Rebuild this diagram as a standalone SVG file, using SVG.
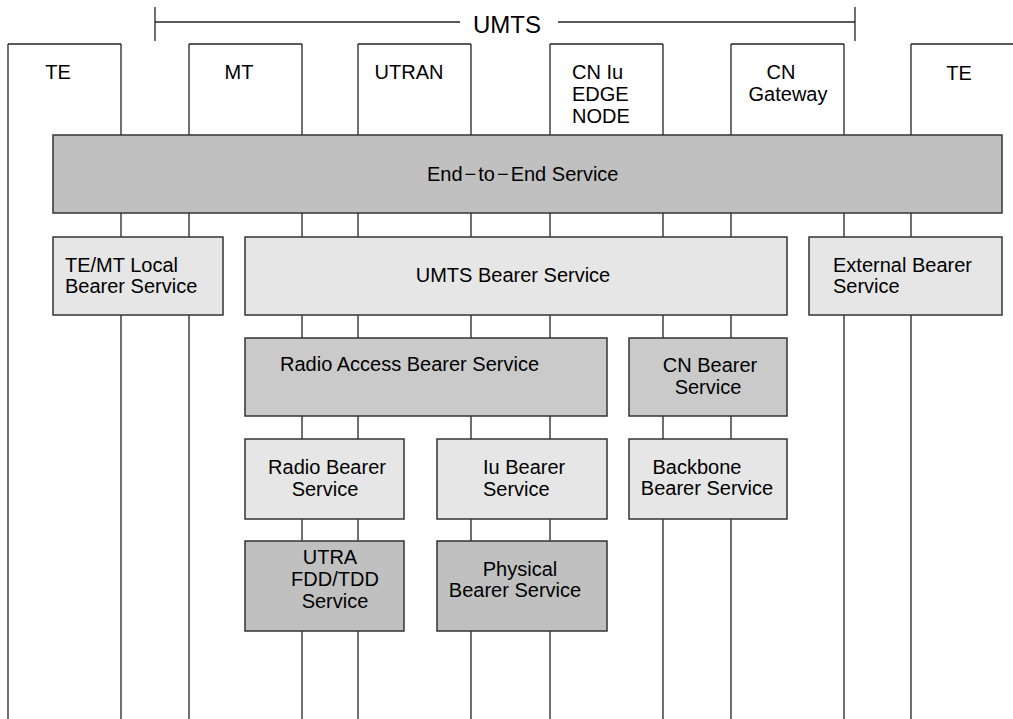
<svg xmlns="http://www.w3.org/2000/svg" width="1013" height="719" viewBox="0 0 1013 719">
<style>
  text { font-family: "Liberation Sans", Arial, sans-serif; font-size: 20px; fill: #000; }
  .ln { stroke: #222; stroke-width: 1.3; fill: none; }
  .box { stroke: #333; stroke-width: 1.5; }
  .dark { fill: #c0c0c0; }
  .mid { fill: #cacaca; }
  .light { fill: #e6e6e6; }
  .c { text-anchor: middle; }
</style>
<rect width="1013" height="719" fill="#ffffff"/>
<g id="umts-bracket">
  <line class="ln" x1="155" y1="7" x2="155" y2="41"/>
  <line class="ln" x1="855" y1="7" x2="855" y2="41"/>
  <line class="ln" x1="155" y1="22" x2="460" y2="22"/>
  <line class="ln" x1="558" y1="22" x2="855" y2="22"/>
  <text x="507" y="33" class="c" style="font-size:24px">UMTS</text>
</g>
<g id="connectors">
  <line class="ln" x1="8" y1="44" x2="8" y2="719"/>
  <line class="ln" x1="121" y1="44" x2="121" y2="719"/>
  <line class="ln" x1="189" y1="44" x2="189" y2="719"/>
  <line class="ln" x1="302" y1="44" x2="302" y2="719"/>
  <line class="ln" x1="358" y1="44" x2="358" y2="719"/>
  <line class="ln" x1="471" y1="44" x2="471" y2="719"/>
  <line class="ln" x1="550" y1="44" x2="550" y2="719"/>
  <line class="ln" x1="663" y1="44" x2="663" y2="719"/>
  <line class="ln" x1="731" y1="44" x2="731" y2="719"/>
  <line class="ln" x1="844" y1="44" x2="844" y2="719"/>
  <line class="ln" x1="911" y1="44" x2="911" y2="719"/>
</g>
<g id="te-left">
  <line class="ln" x1="8" y1="44" x2="121" y2="44"/>
  <text x="58" y="79" class="c">TE</text>
</g>
<g id="mt">
  <line class="ln" x1="189" y1="44" x2="302" y2="44"/>
  <text x="239" y="79" class="c">MT</text>
</g>
<g id="utran">
  <line class="ln" x1="358" y1="44" x2="471" y2="44"/>
  <text x="409" y="79" class="c">UTRAN</text>
</g>
<g id="cn-iu-edge">
  <line class="ln" x1="550" y1="44" x2="663" y2="44"/>
  <text x="572" y="79">CN Iu</text>
  <text x="572" y="101">EDGE</text>
  <text x="572" y="123">NODE</text>
</g>
<g id="cn-gateway">
  <line class="ln" x1="731" y1="44" x2="844" y2="44"/>
  <text x="781" y="79" class="c">CN</text>
  <text x="788" y="101" class="c">Gateway</text>
</g>
<g id="te-right">
  <line class="ln" x1="911" y1="44" x2="1013" y2="44"/>
  <text x="959" y="80" class="c">TE</text>
</g>
<g id="end-to-end">
  <rect class="box dark" x="53" y="135" width="949" height="78"/>
  <text x="427" y="181">End<tspan dx="2">−</tspan><tspan dx="2">to</tspan><tspan dx="2">−</tspan><tspan dx="2">End Service</tspan></text>
</g>
<g id="te-mt-local">
  <rect class="box light" x="53" y="237" width="170" height="78"/>
  <text x="65" y="272">TE/MT Local</text>
  <text x="65" y="293">Bearer Service</text>
</g>
<g id="umts-bearer">
  <rect class="box light" x="245" y="237" width="542" height="78"/>
  <text x="513" y="282" class="c">UMTS Bearer Service</text>
</g>
<g id="external-bearer">
  <rect class="box light" x="809" y="237" width="193" height="78"/>
  <text x="833" y="272">External Bearer</text>
  <text x="833" y="293">Service</text>
</g>
<g id="radio-access-bearer">
  <rect class="box mid" x="245" y="338" width="362" height="78"/>
  <text x="280" y="371">Radio Access Bearer Service</text>
</g>
<g id="cn-bearer">
  <rect class="box mid" x="629" y="338" width="158" height="78"/>
  <text x="710" y="372" class="c">CN Bearer</text>
  <text x="708" y="394" class="c">Service</text>
</g>
<g id="radio-bearer">
  <rect class="box light" x="245" y="439" width="159" height="80"/>
  <text x="327" y="474" class="c">Radio Bearer</text>
  <text x="325" y="496" class="c">Service</text>
</g>
<g id="iu-bearer">
  <rect class="box light" x="437" y="439" width="170" height="80"/>
  <text x="483" y="474">Iu Bearer</text>
  <text x="483" y="496">Service</text>
</g>
<g id="backbone-bearer">
  <rect class="box light" x="629" y="439" width="158" height="80"/>
  <text x="697" y="474" class="c">Backbone</text>
  <text x="707" y="495" class="c">Bearer Service</text>
</g>
<g id="utra-fdd-tdd">
  <rect class="box dark" x="245" y="541" width="159" height="90"/>
  <text x="330" y="564" class="c">UTRA</text>
  <text x="335" y="586" class="c">FDD/TDD</text>
  <text x="335" y="608" class="c">Service</text>
</g>
<g id="physical-bearer">
  <rect class="box dark" x="437" y="541" width="170" height="90"/>
  <text x="520" y="576" class="c">Physical</text>
  <text x="515" y="597" class="c">Bearer Service</text>
</g>
</svg>
